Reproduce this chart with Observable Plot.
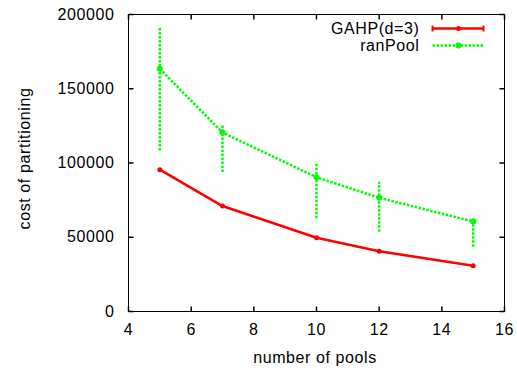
<!DOCTYPE html>
<html>
<head>
<meta charset="utf-8">
<script src="https://cdn.jsdelivr.net/npm/d3@7"></script>
<script src="https://cdn.jsdelivr.net/npm/@observablehq/plot@0.6"></script>
<style>
  html, body { margin: 0; padding: 0; background: #fff; }
</style>
</head>
<body>
<div id="chart"></div>
<script>
const seriesNames = ["GAHP(d=3)", "ranPool"];
const pools = [5, 7, 10, 12, 15];
const gahpCost = [95500, 71000, 49600, 40600, 30800];
const ranPoolCost = [163400, 120500, 90400, 76600, 60600];
const ranPoolLow = [108000, 93600, 62400, 53400, 43300];
const ranPoolHigh = [191500, 125700, 99000, 87100, 62500];
const xTicks = [4, 6, 8, 10, 12, 14, 16];
const yTicks = [0, 50000, 100000, 150000, 200000];
const xLabel = "number of pools";
const yLabel = "cost of partitioning";

const RED = "#ff0000", GREEN = "#00ff00";
const gahp = pools.map((x, i) => ({x, y: gahpCost[i]}));
const ran = pools.map((x, i) => ({x, y: ranPoolCost[i], lo: ranPoolLow[i], hi: ranPoolHigh[i]}));
const line = {draw(ctx, l) { ctx.moveTo(0, 0); ctx.lineTo(0, -l); }};
const dash = "2.5,1.5";
const dashed = {stroke: GREEN, strokeWidth: 2.5, strokeDasharray: dash, strokeLinecap: "butt", strokeLinejoin: "miter"};

const chart = Plot.plot({
  width: 517, height: 370,
  marginLeft: 128, marginRight: 13, marginTop: 14, marginBottom: 59,
  x: {domain: [4, 16]},
  y: {domain: [0, 200000]},
  style: {fontFamily: "'Liberation Sans', Arial, sans-serif", fontSize: "16px", letterSpacing: "0.6px", color: "#000", background: "#fff"},
  marks: [
    Plot.axisX({ticks: xTicks, tickSize: 0, tickPadding: 12, tickFormat: d => String(d), label: null}),
    Plot.axisY({ticks: yTicks, tickSize: 0, tickPadding: 14, tickFormat: d => String(d), label: null}),
    Plot.vector(xTicks, {x: d => d, frameAnchor: "bottom", length: 5, rotate: 0, anchor: "start", shape: line, stroke: "#000", strokeLinecap: "butt"}),
    Plot.vector(xTicks, {x: d => d, frameAnchor: "top", length: 5, rotate: 180, anchor: "start", shape: line, stroke: "#000", strokeLinecap: "butt"}),
    Plot.vector(yTicks, {y: d => d, frameAnchor: "left", length: 5, rotate: 90, anchor: "start", shape: line, stroke: "#000", strokeLinecap: "butt"}),
    Plot.vector(yTicks, {y: d => d, frameAnchor: "right", length: 5, rotate: 270, anchor: "start", shape: line, stroke: "#000", strokeLinecap: "butt"}),
    Plot.frame({stroke: "#000", strokeWidth: 1}),
    Plot.text([xLabel], {text: d => d, frameAnchor: "bottom", dy: 51, dx: -1.5, textAnchor: "middle", lineAnchor: "bottom"}),
    Plot.text([yLabel], {text: d => d, frameAnchor: "left", rotate: -90, dx: -104, dy: -4.5, textAnchor: "middle", lineAnchor: "middle"}),
    // ranPool with error bars
    Plot.ruleX(ran, {x: "x", y1: "lo", y2: "hi", ...dashed}),
    Plot.line(ran, {x: "x", y: "y", ...dashed}),
    Plot.dot(ran, {x: "x", y: "y", r: 3, fill: GREEN}),
    // GAHP
    Plot.line(gahp, {x: "x", y: "y", stroke: RED, strokeWidth: 2.6}),
    Plot.dot(gahp, {x: "x", y: "y", r: 2.5, fill: RED}),
    // legend
    Plot.text([seriesNames[0]], {text: d => d, frameAnchor: "top-right", dx: -85, dy: 14, textAnchor: "end", lineAnchor: "middle"}),
    Plot.text([seriesNames[1]], {text: d => d, frameAnchor: "top-right", dx: -85, dy: 31, textAnchor: "end", lineAnchor: "middle"}),
    Plot.vector([seriesNames[0]], {frameAnchor: "top-right", dx: -72, dy: 14, length: 51, rotate: 90, anchor: "start", shape: line, stroke: RED, strokeWidth: 2.6, strokeLinecap: "butt"}),
    Plot.vector([seriesNames[0]], {frameAnchor: "top-right", dx: -72, dy: 14, length: 6, rotate: 0, anchor: "middle", shape: line, stroke: RED, strokeWidth: 2, strokeLinecap: "butt"}),
    Plot.vector([seriesNames[0]], {frameAnchor: "top-right", dx: -21, dy: 14, length: 6, rotate: 0, anchor: "middle", shape: line, stroke: RED, strokeWidth: 2, strokeLinecap: "butt"}),
    Plot.dot([seriesNames[0]], {frameAnchor: "top-right", dx: -46, dy: 14, r: 2.5, fill: RED}),
    Plot.vector([seriesNames[1]], {frameAnchor: "top-right", dx: -72, dy: 31, length: 51, rotate: 90, anchor: "start", shape: line, ...dashed}),
    Plot.dot([seriesNames[1]], {frameAnchor: "top-right", dx: -46, dy: 31, r: 3, fill: GREEN})
  ]
});
document.getElementById("chart").appendChild(chart);
</script>
</body>
</html>
